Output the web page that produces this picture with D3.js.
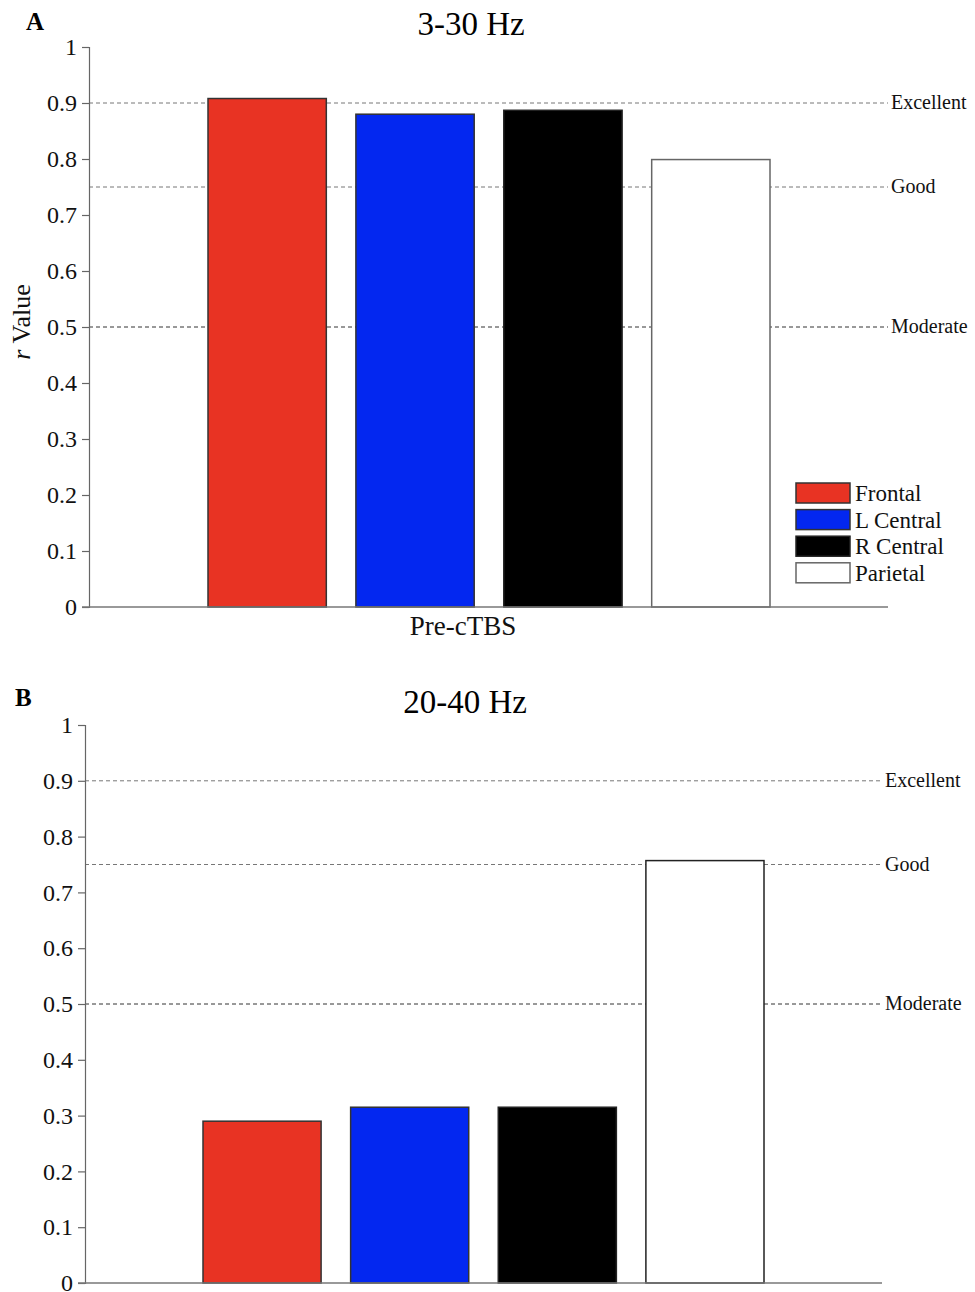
<!DOCTYPE html>
<html>
<head>
<meta charset="utf-8">
<script src="https://cdn.jsdelivr.net/npm/d3@7"></script>
<style>
  html, body { margin: 0; padding: 0; background: #fff; }
  svg { display: block; }
  svg text { font-family: "Liberation Serif", "Times New Roman", serif; }
</style>
</head>
<body>
<svg id="chart" width="975" height="1292"></svg>
<script>
// Regions (one bar each) and their fill colours
const regions = ["Frontal", "L Central", "R Central", "Parietal"];
const regionColors = ["#e83323", "#0327f0", "#000000", "#ffffff"];
const regionStrokes = ["#333333", "#333333", "#222222", "#666666"];

// r values per panel
const valuesA = [0.908, 0.880, 0.887, 0.799];
const valuesB = [0.290, 0.315, 0.315, 0.757];

// Reliability reference levels
const refLevels = [0.9, 0.75, 0.5];
const refLabels = ["Excellent", "Good", "Moderate"];

// Y tick labels
const yTicks = [0, 0.1, 0.2, 0.3, 0.4, 0.5, 0.6, 0.7, 0.8, 0.9, 1];

const serif = '"Liberation Serif", "Times New Roman", serif';
const svg = d3.select("#chart");

function drawPanel(cfg) {
  const g = svg.append("g");
  const y = d3.scaleLinear().domain([0, 1]).range([cfg.y0, cfg.y1]);
  const x = d3.scaleBand().domain(regions).range(cfg.barRange)
    .paddingInner(0.2).paddingOuter(0);

  // panel letter and title
  g.append("text").attr("x", cfg.letterX).attr("y", cfg.letterY)
    .attr("font-size", 25).attr("font-weight", "bold").text(cfg.letter);
  g.append("text").attr("x", cfg.titleX).attr("y", cfg.titleY)
    .attr("text-anchor", "middle").attr("font-size", 33).text(cfg.title);

  // reference lines
  g.selectAll("line.ref").data(refLevels).join("line")
    .attr("class", "ref")
    .attr("x1", cfg.axisX).attr("x2", cfg.refEnd)
    .attr("y1", d => y(d)).attr("y2", d => y(d))
    .attr("stroke", (d, i) => i === 2 ? "#333" : "#777")
    .attr("stroke-width", 1)
    .attr("stroke-dasharray", "4,3");

  // bars
  g.selectAll("rect.bar").data(cfg.values).join("rect")
    .attr("class", "bar")
    .attr("x", (d, i) => x(regions[i]))
    .attr("width", x.bandwidth())
    .attr("y", d => y(d))
    .attr("height", d => y(0) - y(d))
    .attr("fill", (d, i) => regionColors[i])
    .attr("stroke", (d, i) => cfg.strokes[i])
    .attr("stroke-width", 1.5);

  // y axis
  const axis = d3.axisLeft(y).tickValues(yTicks)
    .tickFormat(d => d === 0 || d === 1 ? d3.format("d")(d) : d3.format(".1f")(d))
    .tickSize(7).tickSizeOuter(7).tickPadding(5);
  const ag = g.append("g").attr("transform", `translate(${cfg.axisX},0)`).call(axis);
  ag.attr("font-family", serif).attr("font-size", 24);
  ag.select(".domain").attr("stroke", "#666").attr("stroke-width", 1.2);
  ag.selectAll(".tick line").attr("stroke", "#666").attr("stroke-width", 1.2);
  ag.selectAll(".tick text")
    .style("font-family", serif).style("font-size", "24px").attr("fill", "#111");

  // baseline
  g.append("line")
    .attr("x1", cfg.axisX - 7).attr("x2", cfg.baseEnd)
    .attr("y1", y(0)).attr("y2", y(0))
    .attr("stroke", "#777").attr("stroke-width", 1.5);

  // reference labels
  g.selectAll("text.reflab").data(refLevels).join("text")
    .attr("class", "reflab")
    .attr("x", cfg.refEnd + 3).attr("y", d => y(d) + 6)
    .attr("font-size", 20).attr("fill", "#111")
    .text((d, i) => refLabels[i]);

  return { g, x, y };
}

// Panel A: 3-30 Hz
const A = drawPanel({
  letter: "A", letterX: 26, letterY: 30,
  title: "3-30 Hz", titleX: 471, titleY: 35,
  y0: 607, y1: 47, axisX: 89, barRange: [208, 770],
  refEnd: 888, baseEnd: 888,
  values: valuesA,
  strokes: regionStrokes
});

// axis title and category label
A.g.append("text")
  .attr("transform", "translate(30,322) rotate(-90)")
  .attr("text-anchor", "middle").attr("font-size", 26).attr("fill", "#111")
  .call(t => {
    t.append("tspan").attr("font-style", "italic").text("r");
    t.append("tspan").text(" Value");
  });
A.g.append("text").attr("x", 463).attr("y", 635)
  .attr("text-anchor", "middle").attr("font-size", 27).attr("fill", "#111")
  .text("Pre-cTBS");

// legend
const legend = A.g.append("g");
const legRows = legend.selectAll("g").data(regions).join("g")
  .attr("transform", (d, i) => `translate(796,${483 + i * 26.6})`);
legRows.append("rect").attr("width", 54).attr("height", 20)
  .attr("fill", (d, i) => regionColors[i])
  .attr("stroke", (d, i) => regionStrokes[i]).attr("stroke-width", 1.5);
legRows.append("text").attr("x", 59).attr("y", 18)
  .attr("font-size", 23).attr("fill", "#111").text(d => d);

// Panel B: 20-40 Hz
drawPanel({
  letter: "B", letterX: 15, letterY: 706,
  title: "20-40 Hz", titleX: 465, titleY: 713,
  y0: 1283, y1: 725, axisX: 85, barRange: [203, 764],
  refEnd: 882, baseEnd: 882,
  values: valuesB,
  strokes: ["#333333", "#333333", "#222222", "#222222"]
});
</script>
</body>
</html>
